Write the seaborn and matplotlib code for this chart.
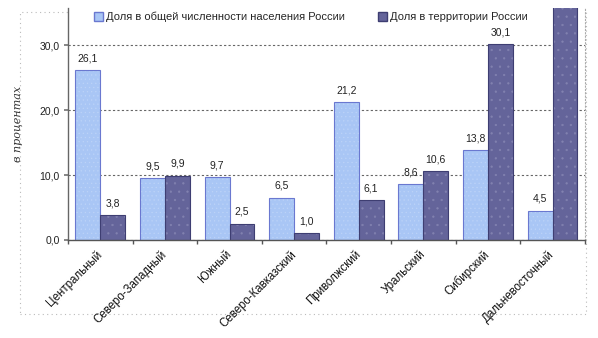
import matplotlib
matplotlib.use("Agg")
import matplotlib.pyplot as plt
import matplotlib.patches as mpatches
from matplotlib.colors import to_rgba
from matplotlib.ticker import FuncFormatter, FixedLocator
import seaborn as sns
import pandas as pd

# Federal districts and their shares (%)
districts = ["Центральный", "Северо-Западный", "Южный", "Северо-Кавказский",
             "Приволжский", "Уральский", "Сибирский", "Дальневосточный"]
population_share = [26.1, 9.5, 9.7, 6.5, 21.2, 8.6, 13.8, 4.5]
territory_share = [3.8, 9.9, 2.5, 1.0, 6.1, 10.6, 30.1, 36.1]
series_names = ["Доля в общей численности населения России",
                "Доля в территории России"]

df = pd.DataFrame({
    "district": districts * 2,
    "value": population_share + territory_share,
    "series": [series_names[0]] * len(districts) + [series_names[1]] * len(districts),
})

sns.set_theme(style="white")
plt.rcParams["font.family"] = ["Liberation Sans", "DejaVu Sans"]
plt.rcParams["hatch.linewidth"] = 0.4

light = "#a9c6f5"
dark = "#64649a"

fig = plt.figure(figsize=(5.98, 3.38), dpi=100)
ax = fig.add_axes([0.1137, 0.29, 0.978 - 0.1137, 0.976 - 0.29])

sns.barplot(data=df, x="district", y="value", hue="series",
            palette=[light, dark], width=0.77, ax=ax, legend=False,
            saturation=1)

# stippled fill with a thin outline
edge_colors = ["#6a78d0", "#3e3e72"]
hatch_colors = ["#bcd3f8", "#8282b0"]
hatches = ["....", ".."]
for cont, ec, hc, h in zip(ax.containers, edge_colors, hatch_colors, hatches):
    for bar in cont:
        bar.set_edgecolor(ec)
        bar.set_linewidth(0.8)
        bar.set_hatch(h)
        bar._hatch_color = to_rgba(hc)

ax.set_ylim(0, 35.7)
ax.set_xlim(-0.5, len(districts) - 0.5)

def comma(v):
    return f"{v:.1f}".replace(".", ",")

# value labels; the tallest bar runs past the top of the axis
for cont, vals in zip(ax.containers, [population_share, territory_share]):
    labels = [comma(v) if v < 35 else "" for v in vals]
    ax.bar_label(cont, labels=labels, padding=5, fontsize=7.5, color="#222222")

ax.yaxis.set_major_locator(FixedLocator([0, 10, 20, 30]))
ax.yaxis.set_major_formatter(FuncFormatter(lambda v, p: comma(v)))
ax.yaxis.grid(True, linestyle=(0, (2, 2)), color="#666666", linewidth=0.8)
ax.set_axisbelow(True)
ax.tick_params(axis="y", labelsize=7.5, labelcolor="#222222", length=3,
               color="#777777", direction="out", left=True, pad=3)

# category ticks between groups, labels at the centres
ax.xaxis.set_minor_locator(FixedLocator([i + 0.5 for i in range(-1, len(districts))]))
ax.tick_params(axis="x", which="major", length=0, pad=9)
ax.tick_params(axis="x", which="minor", length=3, color="#555555", bottom=True,
               direction="out")
ax.set_xticks(range(len(districts)))
ax.set_xticklabels(districts, rotation=45, ha="right", va="center",
                   rotation_mode="anchor", fontsize=8.3, color="#111111")
ax.set_xlabel("")
ax.set_ylabel("в процентах", fontsize=8, style="italic", family="DejaVu Serif",
              labelpad=12, color="#333333")

ax.spines["top"].set_visible(False)
ax.spines["right"].set_linestyle((0, (1, 2)))
ax.spines["right"].set_color("#aaaaaa")
ax.spines["right"].set_linewidth(0.8)
ax.spines["left"].set_linestyle((0, (1, 1)))
ax.spines["left"].set_color("#666666")
ax.spines["left"].set_linewidth(1.0)
ax.spines["bottom"].set_color("#555555")
ax.spines["bottom"].set_linewidth(1.0)

# legend across the top
handles = [mpatches.Patch(facecolor=light, edgecolor=edge_colors[0], label=series_names[0]),
           mpatches.Patch(facecolor=dark, edgecolor=edge_colors[1], label=series_names[1])]
fig.legend(handles=handles, loc="center", bbox_to_anchor=(0.52, 0.95), ncol=2,
           frameon=False, fontsize=8, handlelength=0.8, handleheight=0.8,
           handletextpad=0.3, columnspacing=3.0)

# dotted outer border of the chart area
fig.add_artist(mpatches.Rectangle((20 / 598, 1 - 314 / 338), (586 - 20) / 598,
                                  (314 - 12) / 338, transform=fig.transFigure,
                                  fill=False, linestyle=(0, (1, 3)),
                                  edgecolor="#bbbbbb", linewidth=0.8, zorder=0))

fig.savefig("out.png", dpi=100)
